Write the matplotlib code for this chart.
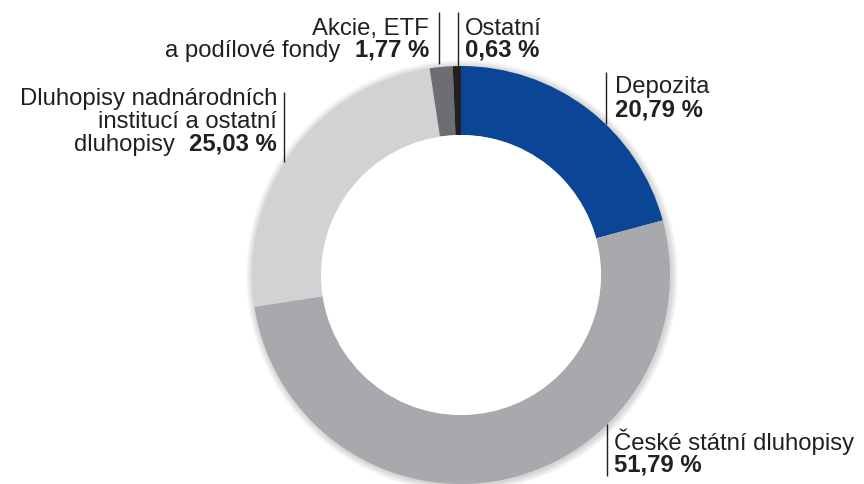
import matplotlib.pyplot as plt
from matplotlib.patches import Circle

plt.rcParams['font.family'] = ['Liberation Sans', 'DejaVu Sans']

# slices, clockwise from 12 o'clock
categories = ["Depozita", "České státní dluhopisy",
              "Dluhopisy nadnárodních institucí a ostatní dluhopisy",
              "Akcie, ETF a podílové fondy", "Ostatní"]
values = [20.79, 51.79, 25.03, 1.77, 0.63]
value_labels = ["20,79 %", "51,79 %", "25,03 %", "1,77 %", "0,63 %"]
colors = ["#0b4595", "#a8a9ac", "#d1d2d4", "#6d6e71", "#231f20"]

W, H = 864, 485
fig = plt.figure(figsize=(W / 100, H / 100), dpi=100)
ax = fig.add_axes([0, 0, 1, 1])
ax.set_xlim(0, W)
ax.set_ylim(0, H)
ax.set_aspect('equal')
ax.axis('off')

cx, cy, r_out, r_in = 461, H - 276, 209, 140

# soft shadow around the ring
for i in range(7):
    ax.add_patch(Circle((cx + 1, cy - 1), r_out + 7 - i, color='black',
                        alpha=0.025, lw=0, zorder=0))

ax.pie(values, colors=colors, startangle=90, counterclock=False,
       center=(cx, cy), radius=r_out,
       wedgeprops=dict(width=r_out - r_in, linewidth=0))
# keep the hole clean
ax.add_patch(Circle((cx, cy), r_in, color='white', lw=0, zorder=5))
ax.set_xlim(0, W)
ax.set_ylim(0, H)

FS = 17.2
TXT = '#231f20'


def vline(x, y0, y1):
    ax.plot([x, x], [H - y0, H - y1], color=TXT, lw=1.0, solid_capstyle='butt')


def line(x, y, s, ha='left', bold=False):
    return ax.text(x, H - y, s, ha=ha, va='baseline', fontsize=FS, color=TXT,
                   fontweight='bold' if bold else 'normal')


# Depozita
vline(606, 73, 125)
line(615, 93, categories[0])
line(615, 117, value_labels[0], bold=True)

# České státní dluhopisy
vline(607, 425, 477)
line(614, 450, categories[1])
line(614, 472, value_labels[1], bold=True)

# Ostatní
vline(458, 13, 67)
line(465, 35, categories[4])
line(465, 57, value_labels[4], bold=True)

# Akcie, ETF a podílové fondy
vline(439, 13, 65)
line(429, 35, "Akcie, ETF", ha='right')
b = line(429, 57, value_labels[3], ha='right', bold=True)
ax.annotate("a podílové fondy", xy=(0, 0), xycoords=b, xytext=(-10, 0),
            textcoords='offset points', ha='right', va='bottom',
            fontsize=FS, color=TXT)

# Dluhopisy nadnárodních institucí a ostatní dluhopisy
vline(284, 93, 163)
line(277, 105, "Dluhopisy nadnárodních", ha='right')
line(277, 128, "institucí a ostatní", ha='right')
b = line(277, 151, value_labels[2], ha='right', bold=True)
ax.annotate("dluhopisy", xy=(0, 0), xycoords=b, xytext=(-10, 0),
            textcoords='offset points', ha='right', va='bottom',
            fontsize=FS, color=TXT)

fig.savefig('out.png', dpi=100)
